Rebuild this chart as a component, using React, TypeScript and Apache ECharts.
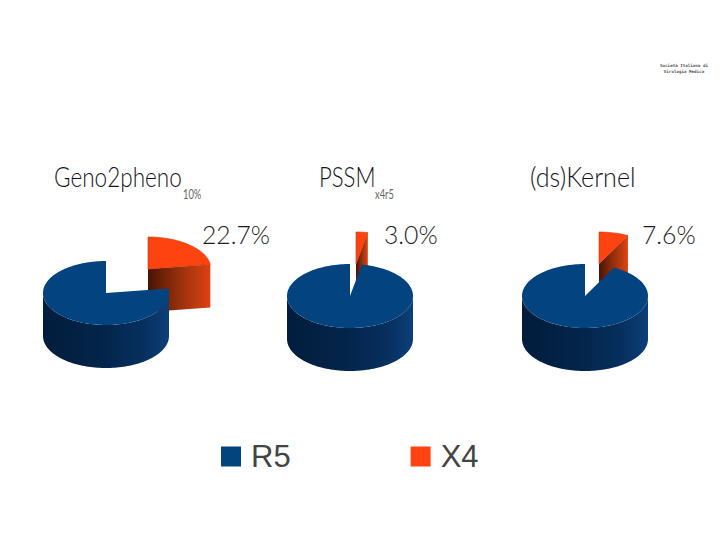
import React, { useEffect, useRef } from "react";
import * as echarts from "echarts";

const categories = ["Geno2pheno", "PSSM", "(ds)Kernel"];
const subscripts = ["10%", "x4r5", ""];
const x4Values = [22.7, 3.0, 7.6];
const r5Values = [77.3, 97.0, 92.4];
const seriesNames = ["R5", "X4"];

// Layout of the three drawn pies (not data)
const centers = [[106, 293], [350, 296], [585, 296]];
const offsets = [[42, -24], [6, -32], [14, -32]];
const RX = 63;
const RY = 32;
const DEPTH = 43;

const pt = (c: number[], deg: number, dy = 0) => {
  const a = (deg * Math.PI) / 180;
  return [c[0] + RX * Math.sin(a), c[1] - RY * Math.cos(a) + dy];
};
const arc = (c: number[], from: number, to: number, dy = 0) => {
  const n = Math.max(2, Math.ceil(Math.abs(to - from) / 2));
  const out: number[][] = [];
  for (let i = 0; i <= n; i++) out.push(pt(c, from + ((to - from) * i) / n, dy));
  return out;
};
const hGrad = (stops: [number, string][]) =>
  new echarts.graphic.LinearGradient(
    0, 0, 1, 0,
    stops.map(([offset, color]) => ({ offset, color }))
  );

const r5Item = (_p: any, api: any) => {
  const i = api.value(0);
  const c = centers[i];
  const gapDeg = (api.value(2) / 100) * 360; // X4 share left open
  const wallFrom = Math.max(90, gapDeg);
  const wall = [...arc(c, wallFrom, 270), ...arc(c, 270, wallFrom, DEPTH)];
  const top = [c, ...arc(c, gapDeg, 360)];
  return {
    type: "group",
    children: [
      {
        type: "polygon",
        shape: { points: wall },
        style: {
          fill: hGrad([[0, "#021d3c"], [0.45, "#03244a"], [0.8, "#07305f"], [1, "#0c3f78"]]),
        },
      },
      { type: "polygon", shape: { points: top }, style: { fill: "#03437f" } },
    ],
  };
};

const x4Item = (_p: any, api: any) => {
  const i = api.value(0);
  const c0 = centers[i];
  const c = [c0[0] + offsets[i][0], c0[1] + offsets[i][1]];
  const sweep = (api.value(1) / 100) * 360;
  const end = pt(c, sweep);
  const face = [c, end, [end[0], end[1] + DEPTH], [c[0], c[1] + DEPTH]];
  const top = [c, ...arc(c, 0, sweep)];
  return {
    type: "group",
    children: [
      {
        type: "polygon",
        shape: { points: face },
        style: {
          fill: hGrad([[0, "#4a1304"], [0.5, "#96300c"], [1, "#dc4312"]]),
        },
      },
      {
        type: "polygon",
        shape: { points: top },
        style: { fill: "#ff4310", stroke: "#c8380e", lineWidth: 0.6 },
      },
    ],
  };
};

const titleX = [54, 319, 530];
const titleScale = [0.835, 0.82, 0.93];
const subX = [183, 375, 0];
const pctX = [202, 384, 642];

const App = () => {
  const ref = useRef<HTMLDivElement>(null);
  useEffect(() => {
    const chart = echarts.init(ref.current!, null, { renderer: "svg" });
    const graphic: any[] = [];
    categories.forEach((t, i) => {
      graphic.push({
        type: "text", x: titleX[i], y: 163, scaleX: titleScale[i],
        style: { text: t, font: "300 27px Lato", fill: "#14141c" },
      });
      if (subscripts[i]) {
        graphic.push({
          type: "text", x: subX[i], y: 187, scaleX: 0.72,
          style: { text: subscripts[i], font: "13px Lato", fill: "#666" },
        });
      }
      graphic.push({
        type: "text", x: pctX[i], y: 221, scaleX: 0.95,
        style: { text: x4Values[i].toFixed(1) + "%", font: "300 26px Lato", fill: "#1c1c24" },
      });
    });
    graphic.push(
      {
        type: "text", x: 684, y: 65,
        style: { text: "Società Italiana di", font: "bold 4.2px 'DejaVu Sans Mono'", fill: "#555", align: "center", verticalAlign: "middle" },
      },
      {
        type: "text", x: 684, y: 71,
        style: { text: "Virologia Medica", font: "bold 4.2px 'DejaVu Sans Mono'", fill: "#555", align: "center", verticalAlign: "middle" },
      }
    );
    chart.setOption({
      animation: false,
      backgroundColor: "#ffffff",
      legend: {
        data: seriesNames,
        left: 221,
        top: 441,
        padding: 0,
        icon: "rect",
        itemWidth: 20,
        itemHeight: 20,
        itemGap: 120,
        textStyle: { fontFamily: "Liberation Sans", fontSize: 31, color: "#444", padding: [0, 0, 0, 5] },
      },
      series: [
        {
          type: "custom",
          name: "X4",
          coordinateSystem: "none",
          renderItem: x4Item,
          itemStyle: { color: "#ff4310" },
          data: x4Values.map((v, i) => [i, v, v]),
        },
        {
          type: "custom",
          name: "R5",
          coordinateSystem: "none",
          renderItem: r5Item,
          itemStyle: { color: "#03437f" },
          data: r5Values.map((v, i) => [i, v, x4Values[i]]),
        },
      ],
      graphic,
    });
    return () => chart.dispose();
  }, []);
  return <div ref={ref} style={{ width: 720, height: 540, position: "absolute", left: 0, top: 0 }} />;
};

export default App;
